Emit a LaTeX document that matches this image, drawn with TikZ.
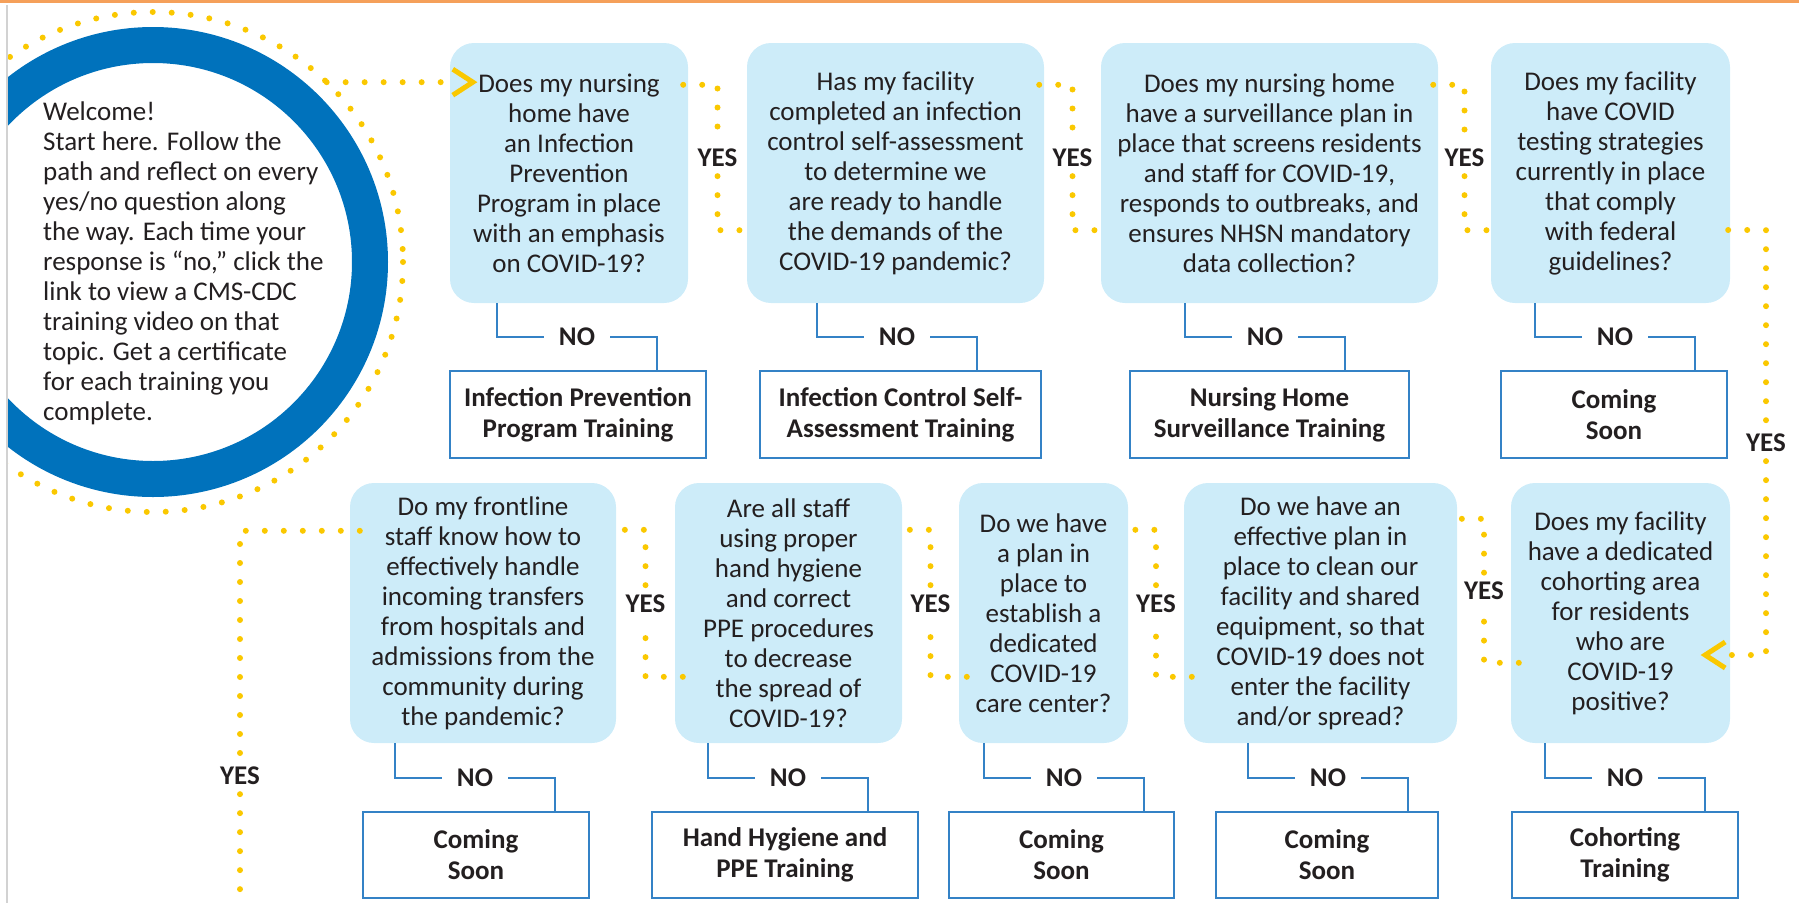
\documentclass[tikz,border=0pt]{standalone}
\usepackage{fontspec}
\setmainfont{Carlito}
\usetikzlibrary{calc}

\definecolor{qfill}{RGB}{205,236,249}
\definecolor{lineblue}{RGB}{52,130,198}
\definecolor{ringblue}{RGB}{0,114,188}
\definecolor{dotgold}{RGB}{250,200,0}
\definecolor{ink}{RGB}{35,31,32}
\definecolor{topline}{RGB}{245,160,90}

\newcommand{\questionfont}{\fontsize{27}{30}\selectfont}
\newcommand{\trainfont}{\fontsize{27}{31}\selectfont\bfseries}
\newcommand{\answerfont}{\fontsize{27}{30}\selectfont\bfseries}

\begin{document}
\begin{tikzpicture}[
        x=1pt, y=-1pt,
        qbox/.style={rectangle, rounded corners=24pt, fill=qfill, align=center, inner sep=0, minimum height=260, font=\questionfont, text=ink},
        tbox/.style={rectangle, draw=lineblue, line width=2.8pt, align=center, inner sep=0, font=\trainfont, text=ink},
        nolabel/.style={font=\answerfont, text=ink, inner xsep=15pt, inner ysep=4pt},
        yeslabel/.style={font=\answerfont, text=ink, inner xsep=2pt, inner ysep=9pt},
        noline/.style={draw=lineblue, line width=2.8pt},
        yesline/.style={draw=dotgold, line width=6pt, line cap=round, dash pattern=on 0pt off 19pt},
        chevron/.style={draw=dotgold, line width=5pt, line join=miter}
    ]

        \useasboundingbox (0,0) rectangle (1799,903);

        % page edges
        \draw[topline, line width=3pt] (0,1.5) -- (1799,1.5);
        \draw[gray!35, line width=1.5pt] (7,5) -- (7,903);

        % Welcome circle
        \node[circle, minimum size=500, inner sep=0, outer sep=0] (start) at (153,262) {};
        \begin{scope}
            \clip (8,3) rectangle (1799,903);
            \draw[ringblue, line width=36pt] (start.center) circle[radius=217];
            \draw[yesline] (start.center) circle[radius=250];
        \end{scope}
        \node[anchor=north west, align=left, inner sep=0, font=\questionfont, text=ink] (welcome) at (43,102)
            {Welcome!\\Start here. Follow the\\path and reflect on every\\yes/no question along\\the way. Each time your\\response is “no,” click the\\link to view a CMS-CDC\\training video on that\\topic. Get a certificate\\for each training you\\complete.};

        % Questions, top row
        \node[qbox, minimum width=238] (q1) at (569,173)
            {Does my nursing\\home have\\an Infection\\Prevention\\Program in place\\with an emphasis\\on COVID-19?};
        \node[qbox, minimum width=297] (q2) at (895.5,173)
            {Has my facility\\completed an infection\\control self-assessment\\to determine we\\are ready to handle\\the demands of the\\COVID-19 pandemic?};
        \node[qbox, minimum width=337] (q3) at (1269.5,173)
            {Does my nursing home\\have a surveillance plan in\\place that screens residents\\and staff for COVID-19,\\responds to outbreaks, and\\ensures NHSN mandatory\\data collection?};
        \node[qbox, minimum width=239] (q4) at (1610.5,173)
            {Does my facility\\have COVID\\testing strategies\\currently in place\\that comply\\with federal\\guidelines?};

        % Questions, bottom row
        \node[qbox, minimum width=266] (q5) at (483,613)
            {Do my frontline\\staff know how to\\effectively handle\\incoming transfers\\from hospitals and\\admissions from the\\community during\\the pandemic?};
        \node[qbox, minimum width=227] (q6) at (788.5,613)
            {Are all staff\\using proper\\hand hygiene\\and correct\\PPE procedures\\to decrease\\the spread of\\COVID-19?};
        \node[qbox, minimum width=169] (q7) at (1043.5,613)
            {Do we have\\a plan in\\place to\\establish a\\dedicated\\COVID-19\\care center?};
        \node[qbox, minimum width=273] (q8) at (1320.5,613)
            {Do we have an\\effective plan in\\place to clean our\\facility and shared\\equipment, so that\\COVID-19 does not\\enter the facility\\and/or spread?};
        \node[qbox, minimum width=219] (q9) at (1620.5,613)
            {Does my facility\\have a dedicated\\cohorting area\\for residents\\who are\\COVID-19\\positive?};

        % Trainings
        \node[tbox, minimum width=256, minimum height=87] (t1) at (578,414.5) {Infection Prevention\\Program Training};
        \node[tbox, minimum width=281, minimum height=87] (t2) at (900.5,414.5) {Infection Control Self-\\Assessment Training};
        \node[tbox, minimum width=279, minimum height=87] (t3) at (1269.5,414.5) {Nursing Home\\Surveillance Training};
        \node[tbox, minimum width=226, minimum height=87] (t4) at (1614,414.5) {Coming\\Soon};
        \node[tbox, minimum width=226, minimum height=86] (t5) at (476,855) {Coming\\Soon};
        \node[tbox, minimum width=266, minimum height=86] (t6) at (785,855) {Hand Hygiene and\\PPE Training};
        \node[tbox, minimum width=225, minimum height=86] (t7) at (1061.5,855) {Coming\\Soon};
        \node[tbox, minimum width=222, minimum height=86] (t8) at (1327,855) {Coming\\Soon};
        \node[tbox, minimum width=226, minimum height=86] (t9) at (1625,855) {Cohorting\\Training};

        % NO branches
        \foreach \q/\t/\a/\y in {q1/t1/497/337, q2/t2/817/337, q3/t3/1185/337, q4/t4/1535/337,
                                 q5/t5/395/778, q6/t6/708/778, q7/t7/984/778, q8/t8/1248/778, q9/t9/1545/778}{
            \node[nolabel] (no-\q) at (\a+80,\y) {NO};
            \coordinate (leg-\q) at (\a+160,\y);
            \draw[noline] (\q.south -| \a,0) |- (no-\q.west);
            \draw[noline] (no-\q.east) -| (\t.north -| leg-\q);
        }

        % YES path, top row
        \draw[yesline] (start.46) -- ([xshift=-3pt]q1.west |- start.46) coordinate (entry);
        \draw[chevron] ([shift={(6,-13)}]entry) -- ++(20,13) -- ++(-20,13);
        \foreach \a/\b/\i in {q1/q2/1, q2/q3/2, q3/q4/3}{
            \node[yeslabel] (yes\i) at ($(\a.east)!0.5!(\b.west)+(0,-15)$) {YES};
            \draw[yesline] ([shift={(-5,42)}]\a.north east) -| (yes\i.north);
            \draw[yesline] (yes\i.south) |- ([shift={(7,-73)}]\b.south west);
        }

        % YES path, down the right side
        \node[yeslabel] (yes4) at (1766,443) {YES};
        \draw[yesline] ([shift={(-2,57)}]q4.east) -| (yes4.north);
        \draw[yesline] (yes4.south) |- ([shift={(-2,42)}]q9.east);
        \draw[chevron] ([shift={(-5,29)}]q9.east) -- ++(-20,13) -- ++(20,13);

        % YES path, bottom row (right to left)
        \foreach \l/\r/\i/\up/\lo in {q5/q6/5/47/194, q6/q7/6/47/194, q7/q8/7/47/194, q8/q9/8/36/180}{
            \node[yeslabel] (yes\i) at ($(\l.north east)!0.5!(\r.north west)+(0,{(\up+\lo)/2})$) {YES};
            \draw[yesline] ([shift={(8,\lo)}]\r.north west) -| (yes\i.south);
            \draw[yesline] (yes\i.north) |- ([shift={(-8,\up)}]\l.north east);
        }

        % YES path, out at the bottom left
        \node[yeslabel] (yes9) at (240,776) {YES};
        \coordinate (exit) at (240,910);
        \draw[yesline] ([shift={(10,48)}]q5.north west) -| (yes9.north);
        \draw[yesline] (yes9.south) -- (exit);

    \end{tikzpicture}
\end{document}
